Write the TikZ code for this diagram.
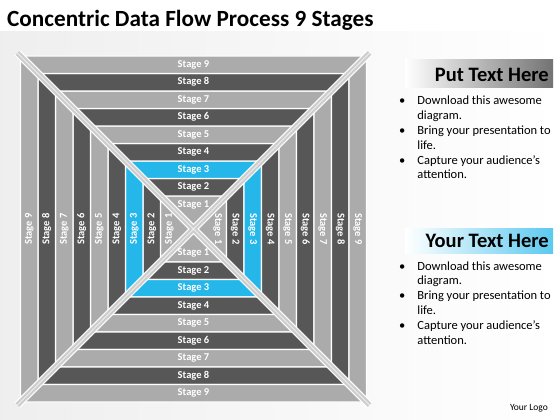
\documentclass[tikz,border=0pt]{standalone}
\usepackage{fontspec}
\setmainfont{Carlito}

\definecolor{lightband}{HTML}{ABABAB}
\definecolor{darkband}{HTML}{575757}
\definecolor{cyanband}{HTML}{25B7EA}
\definecolor{diaggray}{HTML}{CDCDCD}

\begin{document}
\begin{tikzpicture}
[x=1pt,y=-1pt,
stagetext/.style={text=white,font=\bfseries\fontsize{10.5}{11}\selectfont,inner sep=0pt},
band/.style={draw=white,line width=1.2pt},
listtext/.style={anchor=base west,inner sep=0pt,font=\fontsize{12.5}{14.8}\selectfont},]

\useasboundingbox (0,0) rectangle (560,420);

%Background
\fill[white] (0,0) rectangle (560,420);
\shade[left color=gray!13,right color=white] (0,32) rectangle (560,420);

%Centre of the squares and width of a band
\def\cx{193.5}
\def\cy{229}
\def\w{17.5}

%Drawing the bands
\foreach \k/\col in {1/lightband,2/darkband,3/cyanband,4/darkband,5/lightband,6/darkband,7/lightband,8/darkband,9/lightband}{
  \pgfmathsetmacro\ro{33+(\k-1)*\w}
  \pgfmathsetmacro\ri{(\k>1)*(33+(\k-2)*\w)}
  \filldraw[band,fill=\col] (\cx-\ro,\cy-\ro) -- (\cx+\ro,\cy-\ro) -- (\cx+\ri,\cy-\ri) -- (\cx-\ri,\cy-\ri) -- cycle;
  \filldraw[band,fill=\col] (\cx-\ro,\cy+\ro) -- (\cx+\ro,\cy+\ro) -- (\cx+\ri,\cy+\ri) -- (\cx-\ri,\cy+\ri) -- cycle;
  \filldraw[band,fill=\col] (\cx-\ro,\cy-\ro) -- (\cx-\ro,\cy+\ro) -- (\cx-\ri,\cy+\ri) -- (\cx-\ri,\cy-\ri) -- cycle;
  \filldraw[band,fill=\col] (\cx+\ro,\cy-\ro) -- (\cx+\ro,\cy+\ro) -- (\cx+\ri,\cy+\ri) -- (\cx+\ri,\cy-\ri) -- cycle;
}

%Diagonal strips
\draw[white,line width=7.5pt] (\cx-176,\cy-176) -- (\cx+176,\cy+176);
\draw[white,line width=7.5pt] (\cx-176,\cy+176) -- (\cx+176,\cy-176);
\draw[diaggray,line width=5pt] (\cx-176,\cy-176) -- (\cx+176,\cy+176);
\draw[diaggray,line width=5pt] (\cx-176,\cy+176) -- (\cx+176,\cy-176);
\draw[white,line width=0.7pt] (\cx-176,\cy-176) -- (\cx+176,\cy+176);
\draw[white,line width=0.7pt] (\cx-176,\cy+176) -- (\cx+176,\cy-176);

%Labeling the stages
\foreach \k in {1,...,9}{
  \pgfmathsetmacro\pos{33+(\k-1)*\w-8.75}
  \node[stagetext] (t\k) at (\cx,\cy-\pos) {Stage \k};
  \node[stagetext] (b\k) at (\cx,\cy+\pos) {Stage \k};
  \node[stagetext,rotate=90] (l\k) at (\cx-\pos,\cy) {Stage \k};
  \node[stagetext,rotate=-90] (r\k) at (\cx+\pos,\cy) {Stage \k};
}

%Title
\node[anchor=base west,inner sep=0pt,font=\bfseries\fontsize{23.2}{26}\selectfont] (title) at (7,27) {Concentric Data Flow Process 9 Stages};

%First text box
\shade[left color=white,right color=black!55] (405,60) rectangle (553,88);
\node[anchor=east,inner sep=0pt,font=\bfseries\fontsize{20.5}{23}\selectfont] (head1) at (549,75) {Put Text Here};
\node[listtext] (list1) at (399,105) {\begin{tabular}[t]{@{}l@{\hspace{12pt}}l@{}}
\textbullet & Download this awesome\\ & diagram.\\
\textbullet & Bring your presentation to\\ & life.\\
\textbullet & Capture your audience’s\\ & attention.
\end{tabular}};

%Second text box
\shade[left color=white,right color=cyanband!75] (405,228) rectangle (553,253);
\node[anchor=east,inner sep=0pt,font=\bfseries\fontsize{20.5}{23}\selectfont] (head2) at (549,241) {Your Text Here};
\node[listtext] (list2) at (399,270) {\begin{tabular}[t]{@{}l@{\hspace{12pt}}l@{}}
\textbullet & Download this awesome\\ & diagram.\\
\textbullet & Bring your presentation to\\ & life.\\
\textbullet & Capture your audience’s\\ & attention.
\end{tabular}};

%Logo
\node[anchor=east,inner sep=0pt,font=\fontsize{9.5}{10}\selectfont] (logo) at (548,408) {Your Logo};
\end{tikzpicture}
\end{document}
